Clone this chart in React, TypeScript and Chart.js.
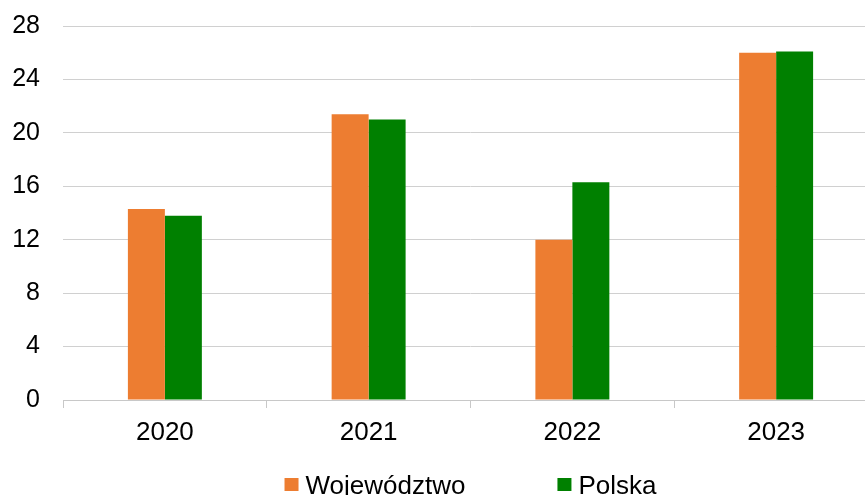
import React, { useEffect, useRef } from "react";
import { Chart, registerables } from "chart.js";

Chart.register(...registerables);

const categories = ["2020", "2021", "2022", "2023"];
const wojewodztwo = [14.3, 21.4, 12.0, 26.0];
const polska = [13.8, 21.0, 16.3, 26.1];
const seriesNames = ["Województwo", "Polska"];
const seriesColors = ["#ED7D31", "#008000"];

const FONT = "'Liberation Sans', Arial, sans-serif";

const legendPlugin = {
  id: "bottomLegend",
  afterDraw(chart: any) {
    const { ctx, chartArea } = chart;
    ctx.save();
    ctx.font = `26px ${FONT}`;
    ctx.textBaseline = "alphabetic";
    ctx.textAlign = "left";
    const box = 14;
    const boxGap = 7;
    const itemGap = 92;
    const items = chart.data.datasets.map((d: any) => ({
      label: d.label,
      color: d.backgroundColor,
      w: ctx.measureText(d.label).width,
    }));
    const total =
      items.reduce((s: number, it: any) => s + box + boxGap + it.w, 0) +
      itemGap * (items.length - 1);
    let x = (chartArea.left + chartArea.right) / 2 - total / 2;
    const baseline = 494;
    for (const it of items) {
      ctx.fillStyle = it.color;
      ctx.fillRect(x, baseline - 16, box, 13);
      ctx.fillStyle = "#000000";
      ctx.fillText(it.label, x + box + boxGap, baseline);
      x += box + boxGap + it.w + itemGap;
    }
    ctx.restore();
  },
};

export default function App() {
  const ref = useRef<HTMLCanvasElement | null>(null);

  useEffect(() => {
    document.body.style.margin = "0";
    document.body.style.overflow = "hidden";
    document.documentElement.style.overflow = "hidden";
    const canvas = ref.current;
    if (!canvas) return;
    const chart = new Chart(canvas, {
      type: "bar",
      data: {
        labels: categories,
        datasets: [
          {
            label: seriesNames[0],
            data: wojewodztwo,
            backgroundColor: seriesColors[0],
            borderWidth: 0,
            categoryPercentage: 0.363,
            barPercentage: 1,
          },
          {
            label: seriesNames[1],
            data: polska,
            backgroundColor: seriesColors[1],
            borderWidth: 0,
            categoryPercentage: 0.363,
            barPercentage: 1,
          },
        ],
      },
      options: {
        responsive: false,
        animation: false,
        devicePixelRatio: 1,
        layout: { padding: { top: 26, right: 2, bottom: 33, left: 0 } },
        plugins: {
          legend: { display: false },
          tooltip: { enabled: false },
        },
        scales: {
          x: {
            grid: {
              offset: true,
              drawOnChartArea: false,
              drawTicks: true,
              tickLength: 8,
              color: "#c8c8c8",
              lineWidth: 1,
            },
            border: { display: true, color: "#c8c8c8", width: 1 },
            ticks: {
              color: "#000000",
              padding: 9,
              font: { family: FONT, size: 26 },
            },
            afterFit: (scale: any) => {
              scale.height = 62;
              scale.paddingLeft = 0;
              scale.paddingRight = 0;
            },
          },
          y: {
            min: 0,
            max: 28,
            ticks: {
              stepSize: 4,
              color: "#000000",
              padding: 23,
              font: { family: FONT, size: 25 },
            },
            grid: {
              drawTicks: false,
              color: "#d0d0d0",
              lineWidth: 1,
            },
            border: { display: false },
            afterFit: (scale: any) => {
              scale.width = 63;
              scale.paddingTop = 0;
              scale.paddingBottom = 0;
            },
          },
        },
      },
      plugins: [legendPlugin],
    });
    return () => chart.destroy();
  }, []);

  return (
    <div style={{ width: 880, height: 495, overflow: "hidden" }}>
      <canvas ref={ref} width={880} height={495} style={{ display: "block" }} />
    </div>
  );
}
